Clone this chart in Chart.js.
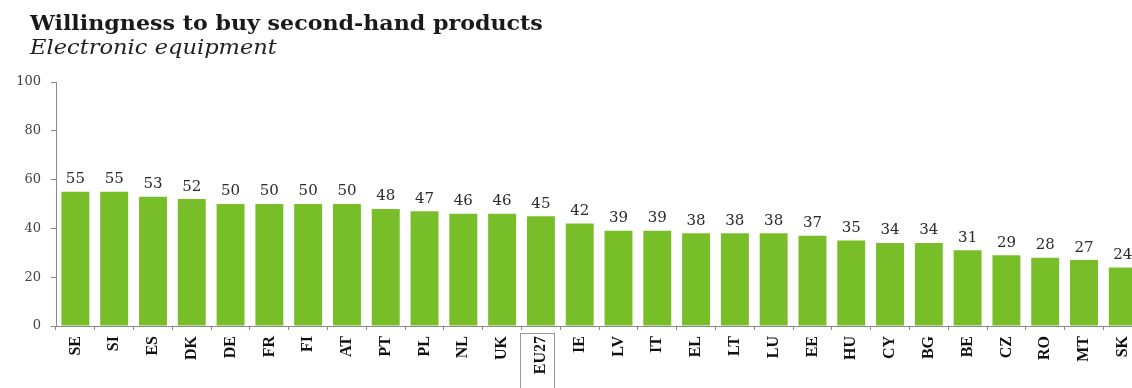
<!DOCTYPE html>
<html>
<head>
<meta charset="utf-8">
<script src="https://cdn.jsdelivr.net/npm/chart.js@4"></script>
<style>
  html, body { margin: 0; padding: 0; background: #fff; }
  #wrap { position: relative; width: 1132px; height: 388px; overflow: hidden; }
  .kopf { position: absolute; left: 30px; white-space: nowrap; transform-origin: 0 0; line-height: 1; }
  #titel { top: 11px; font: bold 20px "DejaVu Serif", serif; color: #1a1a1a; }
  #untertitel { top: 35px; font: italic 20px "DejaVu Serif", serif; color: #222; }
  canvas { position: absolute; left: 0; top: 0; }
</style>
</head>
<body>
<div id="wrap">
  <canvas id="grafico" width="1148" height="388"></canvas>
  <div class="kopf" id="titel" data-breite="513">Willingness to buy second-hand products</div>
  <div class="kopf" id="untertitel" data-breite="247">Electronic equipment</div>
</div>
<script>
const laender = ['SE', 'SI', 'ES', 'DK', 'DE', 'FR', 'FI', 'AT', 'PT', 'PL', 'NL', 'UK', 'EU27', 'IE',
    'LV', 'IT', 'EL', 'LT', 'LU', 'EE', 'HU', 'CY', 'BG', 'BE', 'CZ', 'RO', 'MT', 'SK'];
const werte = [55, 55, 53, 52, 50, 50, 50, 50, 48, 47, 46, 46, 45, 42,
    39, 39, 38, 38, 38, 37, 35, 34, 34, 31, 29, 28, 27, 24];
const yTicks = [0, 20, 40, 60, 80, 100];

// Überschriften in die Breite ziehen
document.querySelectorAll('.kopf').forEach(el => {
    const ziel = Number(el.dataset.breite);
    el.style.transform = 'scaleX(' + (ziel / el.offsetWidth) + ')';
});

// Zahlen über den Balken
const wertBeschriftung = {
    id: 'wertBeschriftung',
    afterDatasetsDraw(chart) {
        const ctx = chart.ctx;
        const meta = chart.getDatasetMeta(0);
        ctx.save();
        ctx.font = '15px "DejaVu Serif", serif';
        ctx.fillStyle = '#2a2a2a';
        ctx.textAlign = 'center';
        ctx.textBaseline = 'bottom';
        meta.data.forEach((bar, i) => {
            ctx.fillText(String(werte[i]), bar.x, bar.y - 5);
        });
        ctx.restore();
    }
};

// Rahmen um den EU-Durchschnitt
const euRahmen = {
    id: 'euRahmen',
    afterDraw(chart) {
        const x = chart.scales.x;
        const cx = x.getPixelForTick(laender.indexOf('EU27'));
        const ctx = chart.ctx;
        ctx.save();
        ctx.strokeStyle = '#999';
        ctx.lineWidth = 1;
        ctx.strokeRect(Math.round(cx - 21) + 0.5, x.top + 7.5, 34, 70);
        ctx.restore();
    }
};

const ctx = document.getElementById('grafico').getContext('2d');
new Chart(ctx, {
    type: 'bar',
    data: {
        labels: laender,
        datasets: [{
            data: werte,
            backgroundColor: '#78BE28',
            barPercentage: 0.72,
            categoryPercentage: 1.0
        }]
    },
    options: {
        responsive: false,
        animation: false,
        layout: { padding: { left: 0, top: 82, right: 0, bottom: 0 } },
        plugins: { legend: { display: false }, tooltip: { enabled: false } },
        scales: {
            y: {
                min: 0,
                max: 100,
                afterBuildTicks(axis) { axis.ticks = yTicks.map(v => ({ value: v })); },
                afterFit(scale) { scale.width = 56; },
                border: { color: '#888', width: 1 },
                grid: { drawOnChartArea: false, drawTicks: true, tickLength: 5, color: '#888' },
                ticks: { color: '#444', padding: 10, font: { family: '"DejaVu Serif", serif', size: 13 } }
            },
            x: {
                afterFit(scale) { scale.height = 62; },
                border: { color: '#888', width: 1 },
                grid: { drawOnChartArea: false, drawTicks: true, tickLength: 4, color: '#888', offset: true },
                ticks: {
                    color: '#111',
                    minRotation: 90,
                    maxRotation: 90,
                    autoSkip: false,
                    padding: 6,
                    font: { family: '"Liberation Serif", serif', size: 16, weight: 'bold' }
                }
            }
        }
    },
    plugins: [wertBeschriftung, euRahmen]
});
</script>
</body>
</html>
